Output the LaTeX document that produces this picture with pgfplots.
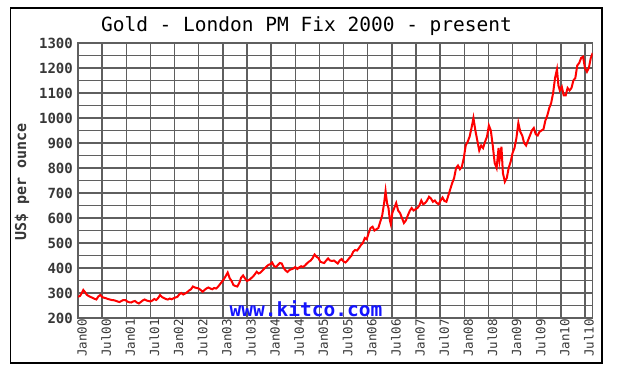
\documentclass[border=0pt]{standalone}
\usepackage{fontspec}
\setmainfont{DejaVu Sans Mono}
\setmonofont{DejaVu Sans Mono}
\usepackage{pgfplots}
\pgfplotsset{compat=1.18}
\definecolor{gridgray}{RGB}{95,95,95}
\definecolor{labgray}{RGB}{55,55,55}
\definecolor{kitcoblue}{RGB}{20,20,255}
\begin{document}
\begin{tikzpicture}
\path (0,0) rectangle (618pt,381pt);
\begin{axis}[
  at={(78pt,63pt)}, anchor=south west,
  scale only axis, width=514.7pt, height=275pt,
  xmin=2000, xmax=2010.66, ymin=200, ymax=1300,
  xtick={2000,2000.5,2001,2001.5,2002,2002.5,2003,2003.5,2004,2004.5,2005,2005.5,2006,2006.5,2007,2007.5,2008,2008.5,2009,2009.5,2010,2010.5},
  xticklabels={Jan00,Jul00,Jan01,Jul01,Jan02,Jul02,Jan03,Jul03,Jan04,Jul04,Jan05,Jul05,Jan06,Jul06,Jan07,Jul07,Jan08,Jul08,Jan09,Jul09,Jan10,Jul10},
  ytick={200,300,...,1300},
  minor ytick={250,350,...,1250},
  grid=both,
  major grid style={draw=gridgray, line width=1.5pt},
  minor grid style={draw=gridgray, line width=1.5pt},
  axis line style={draw=gridgray, line width=1.5pt},
  tick style={draw=none},
  /pgf/number format/assume math mode=true,
  /pgf/number format/1000 sep={},
  yticklabel style={font=\fontsize{14}{14}\selectfont\bfseries, text=labgray, inner sep=1pt, xshift=-4pt},
  xticklabel style={rotate=90, anchor=east, font=\fontsize{12.5}{12.5}\selectfont, text=labgray, inner sep=1pt, yshift=-4pt},
]
\addplot[red, line width=2pt] coordinates {
(2000.00,285)(2000.04,288)(2000.08,300)(2000.11,312)(2000.14,305)(2000.18,293)(2000.22,288)(2000.26,284)(2000.30,281)(2000.34,277)(2000.38,274)(2000.42,286)(2000.46,292)(2000.50,284)(2000.54,281)(2000.58,279)(2000.62,276)(2000.66,274)(2000.70,272)(2000.74,271)(2000.78,269)(2000.82,266)(2000.86,264)(2000.90,268)(2000.94,272)(2000.98,272)
(2001.02,266)(2001.06,263)(2001.10,262)(2001.14,266)(2001.18,268)(2001.22,262)(2001.26,258)(2001.30,264)(2001.34,270)(2001.38,274)(2001.42,270)(2001.46,268)(2001.50,266)(2001.54,270)(2001.58,276)(2001.62,272)(2001.66,280)(2001.70,292)(2001.74,284)(2001.78,280)(2001.82,276)(2001.86,274)(2001.90,278)(2001.94,275)(2001.98,279)
(2002.02,282)(2002.06,285)(2002.10,295)(2002.14,300)(2002.18,294)(2002.22,298)(2002.26,303)(2002.30,310)(2002.34,315)(2002.38,326)(2002.42,322)(2002.46,320)(2002.50,318)(2002.54,312)(2002.58,305)(2002.62,312)(2002.66,318)(2002.70,322)(2002.74,318)(2002.78,315)(2002.82,320)(2002.86,318)(2002.90,325)(2002.94,335)(2002.98,345)
(2003.02,355)(2003.06,368)(2003.10,382)(2003.14,360)(2003.18,348)(2003.22,332)(2003.26,328)(2003.30,326)(2003.34,340)(2003.38,362)(2003.42,370)(2003.46,358)(2003.50,348)(2003.54,352)(2003.58,358)(2003.62,365)(2003.66,374)(2003.70,385)(2003.74,378)(2003.78,382)(2003.82,390)(2003.86,398)(2003.90,405)(2003.94,412)(2003.98,415)
(2004.02,422)(2004.06,408)(2004.10,404)(2004.14,412)(2004.18,420)(2004.22,418)(2004.26,400)(2004.30,390)(2004.34,384)(2004.38,392)(2004.42,395)(2004.46,398)(2004.50,404)(2004.54,396)(2004.58,402)(2004.62,407)(2004.66,404)(2004.70,410)(2004.74,418)(2004.78,425)(2004.82,430)(2004.86,440)(2004.90,454)(2004.94,445)(2004.98,440)
(2005.02,425)(2005.06,422)(2005.10,420)(2005.14,430)(2005.18,438)(2005.22,430)(2005.26,428)(2005.30,430)(2005.34,424)(2005.38,418)(2005.42,430)(2005.46,436)(2005.50,426)(2005.54,422)(2005.58,430)(2005.62,440)(2005.66,448)(2005.70,465)(2005.74,472)(2005.78,470)(2005.82,480)(2005.86,492)(2005.90,500)(2005.94,520)(2005.98,515)
(2006.02,540)(2006.06,560)(2006.10,565)(2006.14,550)(2006.18,555)(2006.22,560)(2006.26,585)(2006.30,610)(2006.34,660)(2006.37,708)(2006.40,660)(2006.43,640)(2006.46,590)(2006.48,575)(2006.51,620)(2006.55,640)(2006.59,660)(2006.63,630)(2006.67,620)(2006.71,600)(2006.75,580)(2006.79,590)(2006.83,610)(2006.87,628)(2006.91,640)(2006.95,630)(2006.99,635)
(2007.03,640)(2007.07,650)(2007.11,670)(2007.15,655)(2007.19,660)(2007.23,670)(2007.27,685)(2007.31,678)(2007.35,665)(2007.39,670)(2007.43,660)(2007.47,655)(2007.51,670)(2007.55,682)(2007.59,668)(2007.63,665)(2007.67,690)(2007.71,715)(2007.75,740)(2007.79,760)(2007.83,800)(2007.87,810)(2007.91,795)(2007.95,805)(2007.99,840)
(2008.03,890)(2008.07,905)(2008.11,925)(2008.15,960)(2008.19,1000)(2008.23,950)(2008.27,910)(2008.31,870)(2008.35,890)(2008.39,880)(2008.43,905)(2008.47,925)(2008.51,970)(2008.55,950)(2008.59,890)(2008.63,820)(2008.67,800)(2008.71,880)(2008.73,830)(2008.77,885)(2008.80,780)(2008.84,745)(2008.88,760)(2008.92,800)(2008.96,825)
(2009.00,860)(2009.04,880)(2009.08,920)(2009.12,980)(2009.16,945)(2009.20,930)(2009.24,900)(2009.28,890)(2009.32,910)(2009.36,930)(2009.40,950)(2009.44,960)(2009.48,935)(2009.52,930)(2009.56,945)(2009.60,950)(2009.64,955)(2009.68,990)(2009.72,1010)(2009.76,1040)(2009.80,1060)(2009.84,1100)(2009.88,1160)(2009.92,1195)(2009.95,1130)(2009.98,1110)
(2010.02,1125)(2010.06,1090)(2010.10,1090)(2010.14,1120)(2010.18,1110)(2010.22,1120)(2010.26,1150)(2010.30,1160)(2010.34,1210)(2010.38,1220)(2010.42,1240)(2010.46,1245)(2010.50,1200)(2010.54,1185)(2010.58,1200)(2010.62,1240)(2010.66,1260)
};
\end{axis}
\node[anchor=base, text=kitcoblue, font=\fontsize{19.5}{19.5}\selectfont\bfseries] at (306pt,65pt) {www.kitco.com};
\node[anchor=base, font=\fontsize{19.5}{19.5}\selectfont] at (306.5pt,349pt) {Gold - London PM Fix 2000 - present};
\node[rotate=90, text=labgray, font=\fontsize{15}{15}\selectfont\bfseries] at (22pt,199pt) {US\$ per ounce};
\draw[black, line width=1.5pt] (10.5pt,18pt) rectangle (602pt,373pt);
\end{tikzpicture}
\end{document}
